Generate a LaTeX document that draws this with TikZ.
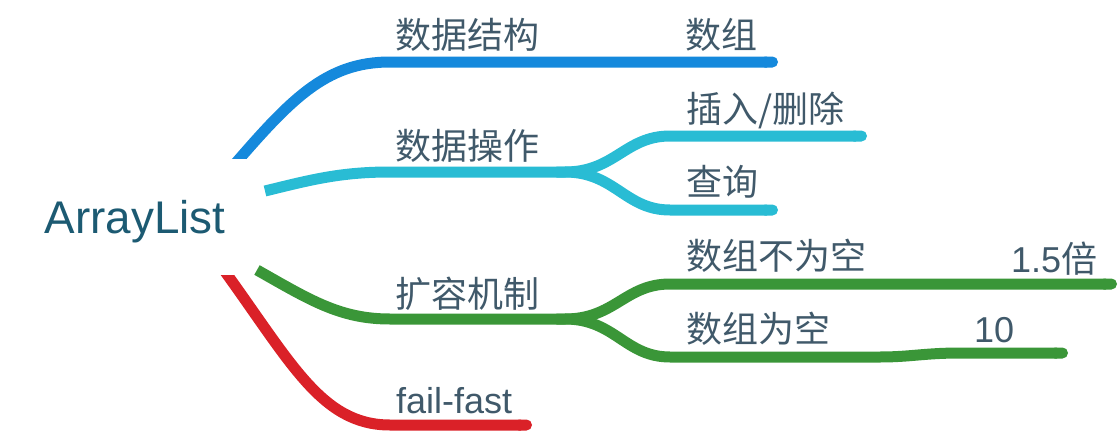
\documentclass[tikz,border=0pt]{standalone}
\usepackage{fontspec}
\setmainfont{Liberation Sans}
\newfontfamily\cjk{Noto Sans CJK SC}
\usetikzlibrary{arrows.meta}
\definecolor{cblue}{HTML}{1589DC}
\definecolor{ccyan}{HTML}{29BCD4}
\definecolor{cgreen}{HTML}{3A9638}
\definecolor{cred}{HTML}{DA2128}
\definecolor{ctext}{HTML}{40596A}
\definecolor{croot}{HTML}{1C5A72}
\begin{document}
\begin{tikzpicture}[x=1pt,y=-1pt,
  branch/.style={line width=11pt, line cap=butt, -{Round Cap[]}},
  lbl/.style={anchor=base west, inner sep=0pt, text=ctext, font=\fontsize{36}{40}\selectfont},
  clbl/.style={lbl, font=\fontsize{36}{40}\selectfont\cjk},
  rootlbl/.style={anchor=base west, inner sep=0pt, text=croot, font=\fontsize{45.8}{50}\selectfont}]
\useasboundingbox (0,0) rectangle (1120,434);
% root
\node[rootlbl] (root) at (44.5,233) {ArrayList};
% coordinates of branches
\coordinate (bS) at (228,172);
\coordinate (bE) at (778,62);
\coordinate (cS) at (265,191);
\coordinate (cF) at (565,172);
\coordinate (c1E) at (867,136);
\coordinate (c2E) at (778,210);
\coordinate (gS) at (257,270);
\coordinate (gF) at (565,319);
\coordinate (g1E) at (1117,284);
\coordinate (g2E) at (1068,353);
\coordinate (rS) at (218,262);
\coordinate (rE) at (532,425);
% blue
\begin{scope}
\clip (0,0) rectangle (1120,158);
\draw[branch,cblue] (bS) .. controls (290,100) and (325,62) .. (390,62) -- (bE);
\end{scope}
% cyan
\draw[branch,ccyan] (cS) .. controls (310,180) and (340,172) .. (390,172) -- (cF) -- ++(5,0);
\draw[branch,ccyan] (cF) .. controls (615,172) and (625,136) .. (670,136) -- (c1E);
\draw[branch,ccyan] (cF) .. controls (615,172) and (625,210) .. (670,210) -- (c2E);
% green
\draw[branch,cgreen] (gS) .. controls (310,300) and (340,319) .. (390,319) -- (gF) -- ++(5,0);
\draw[branch,cgreen] (gF) .. controls (615,319) and (625,284) .. (670,284) -- (g1E);
\draw[branch,cgreen] (gF) .. controls (615,319) and (625,357) .. (670,357) -- (880,357)
  .. controls (910,357) and (925,353) .. (960,353) -- (g2E);
% red
\begin{scope}
\clip (0,275) rectangle (1120,434);
\draw[branch,cred] (rS) .. controls (290,360) and (320,425) .. (390,425) -- (rE);
\end{scope}
% labels
\node[clbl] (n1) at (395,48.5) {数据结构};
\node[clbl] (n11) at (685,48.5) {数组};
\node[clbl] (n2) at (395,159.5) {数据操作};
\node[clbl] (n21) at (686,122.5) {插入/删除};
\node[clbl] (n22) at (686,195.5) {查询};
\node[clbl] (n3) at (395,307.5) {扩容机制};
\node[clbl] (n31) at (686,269.5) {数组不为空};
\node[lbl] (n311) at (1011,272) {1.5{\cjk 倍}};
\node[clbl] (n32) at (686,342.5) {数组为空};
\node[lbl] (n321) at (974,342) {10};
\node[lbl] (n4) at (396,413) {fail-fast};
\end{tikzpicture}
\end{document}
